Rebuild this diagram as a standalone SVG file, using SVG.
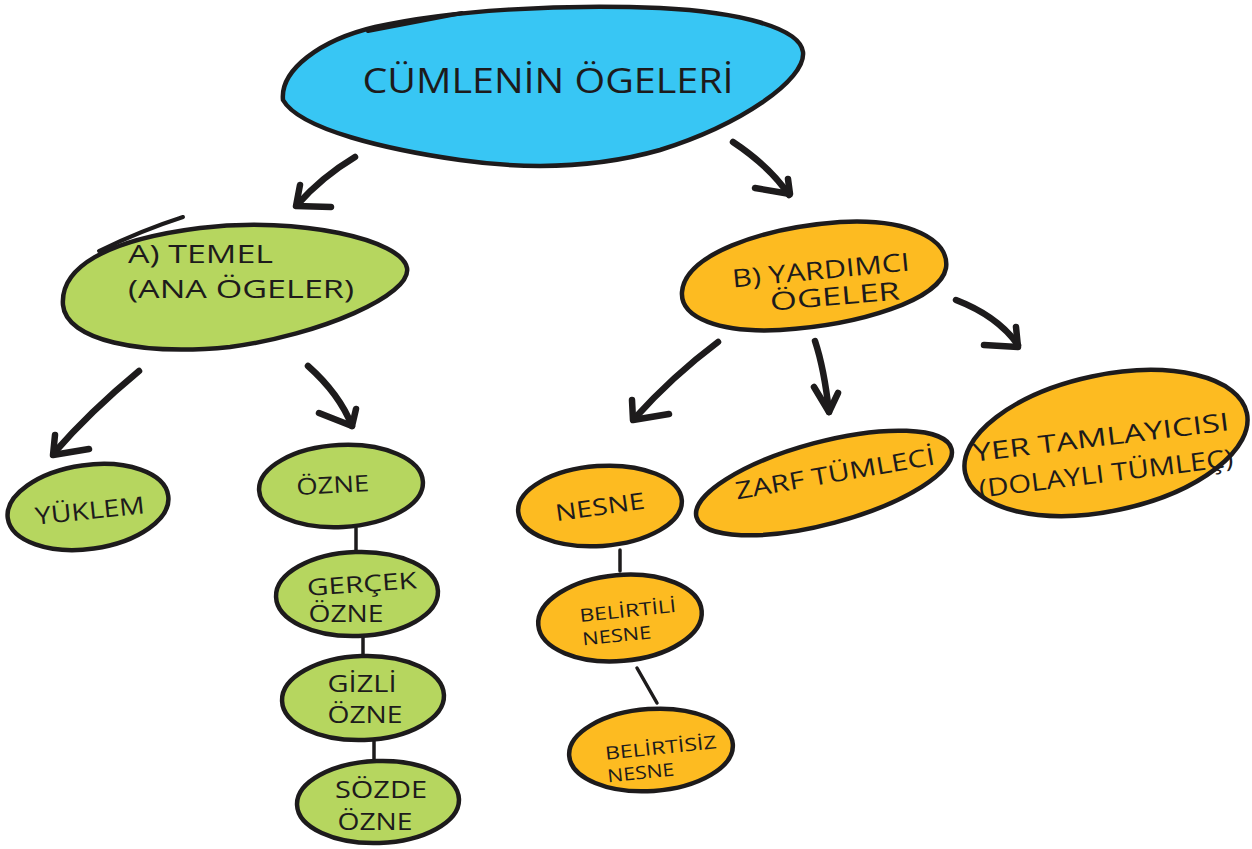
<svg xmlns="http://www.w3.org/2000/svg" width="1252" height="849" viewBox="0 0 1252 849">
<style>
.o{stroke:#1d1b1c;stroke-width:4.5;stroke-linejoin:round}
.b{fill:#38C6F4}.g{fill:#B6D65F}.y{fill:#FDBB21}
text{font-family:"Open Sans","DejaVu Sans",sans-serif;font-weight:500;fill:#1d1b1c;text-anchor:middle}
.a{fill:none;stroke:#1d1b1c;stroke-width:6.5;stroke-linecap:round;stroke-linejoin:round}
.l{fill:none;stroke:#1d1b1c;stroke-width:3.5;stroke-linecap:round}
.x{fill:none;stroke:#1d1b1c;stroke-width:4;stroke-linecap:round}
</style>
<rect width="1252" height="849" fill="#ffffff"/>

<g id="connectors">
  <!-- main to A -->
  <path class="a" d="M355,157 C330,172 312,188 297,205"/>
  <path class="a" d="M300,185 L296,206 L331,207"/>
  <!-- main to B -->
  <path class="a" d="M733,142 C757,158 775,174 789,195"/>
  <path class="a" d="M755,188 L790,194 L788,179"/>
  <!-- A to YUKLEM -->
  <path class="a" d="M139,371 C110,395 80,423 54,453"/>
  <path class="a" d="M55,435 L53,455 L89,449"/>
  <!-- A to OZNE -->
  <path class="a" d="M308,366 C326,382 343,403 352,426"/>
  <path class="a" d="M319,413 L352,426 L356,409"/>
  <!-- B to NESNE -->
  <path class="a" d="M718,342 C690,363 660,390 634,419"/>
  <path class="a" d="M632,400 L633,420 L669,414"/>
  <!-- B to ZARF -->
  <path class="a" d="M815,341 C822,362 826,385 829,412"/>
  <path class="a" d="M814,387 L829,412 L838,393"/>
  <!-- B to YER -->
  <path class="a" d="M956,300 C982,310 1004,325 1018,345"/>
  <path class="a" d="M984,345 L1018,347 L1016,327"/>
  <!-- vertical links -->
  <path class="l" d="M356,528 L356,550"/>
  <path class="l" d="M363,637 L363,656"/>
  <path class="l" d="M374,740 L374,759"/>
  <path class="l" d="M620,550 L620,571"/>
  <path class="l" d="M637,668 L657,703"/>
</g>

<g id="node-main">
  <path class="o b" d="M283,100 C280,70 320,40 375,27 C450,10 560,4 660,8 C740,12 800,28 803,52 C806,80 740,125 660,150 C600,167 530,170 460,160 C390,150 300,130 283,100 Z"/>
  <path class="x" stroke-width="5.5" d="M368,31 L462,13"/>
  <text x="548" y="93" font-size="35" textLength="371" lengthAdjust="spacingAndGlyphs">CÜMLENİN ÖGELERİ</text>
</g>

<g id="node-a">
  <path class="o g" d="M63,305 C60,268 105,240 200,228 C300,216 402,240 407,268 C412,295 320,335 230,347 C140,356 66,340 63,305 Z"/>
  <path class="x" d="M99,251 C130,236 155,226 183,217"/>
  <text x="128" y="263" font-size="25" style="text-anchor:start" textLength="145" lengthAdjust="spacingAndGlyphs">A) TEMEL</text>
  <text x="128" y="298" font-size="25" style="text-anchor:start" textLength="226" lengthAdjust="spacingAndGlyphs">(ANA ÖGELER)</text>
</g>

<g id="node-b">
  <path class="o y" d="M682,292 C685,255 760,228 840,222 C910,218 950,240 946,268 C940,300 860,325 780,330 C720,333 680,318 682,292 Z"/>
  <text x="821" y="279" font-size="25" transform="rotate(-5.5 821 272)" textLength="178" lengthAdjust="spacingAndGlyphs">B) YARDIMCI</text>
  <text x="835" y="305" font-size="25" transform="rotate(-5 835 298)" textLength="130" lengthAdjust="spacingAndGlyphs">ÖGELER</text>
</g>

<g id="node-yuklem">
  <ellipse class="o g" cx="88" cy="507" rx="81" ry="42" transform="rotate(-8 88 507)"/>
  <text x="90" y="519" font-size="24" transform="rotate(-6 90 512)" textLength="110" lengthAdjust="spacingAndGlyphs">YÜKLEM</text>
</g>

<g id="node-ozne">
  <ellipse class="o g" cx="341" cy="486" rx="82" ry="41" transform="rotate(-3 341 486)"/>
  <text x="333" y="493" font-size="23" transform="rotate(-3 333 491)" textLength="73" lengthAdjust="spacingAndGlyphs">ÖZNE</text>
</g>

<g id="node-gercek">
  <ellipse class="o g" cx="357" cy="594" rx="81" ry="42" transform="rotate(-2 357 594)"/>
  <text x="362" y="592" font-size="23" transform="rotate(-4 362 588)" textLength="110" lengthAdjust="spacingAndGlyphs">GERÇEK</text>
  <text x="346" y="622" font-size="23" textLength="75" lengthAdjust="spacingAndGlyphs">ÖZNE</text>
</g>

<g id="node-gizli">
  <ellipse class="o g" cx="363" cy="698" rx="81" ry="42" transform="rotate(-2 363 698)"/>
  <text x="362" y="692" font-size="23" textLength="69" lengthAdjust="spacingAndGlyphs">GİZLİ</text>
  <text x="365" y="723" font-size="23" textLength="75" lengthAdjust="spacingAndGlyphs">ÖZNE</text>
</g>

<g id="node-sozde">
  <ellipse class="o g" cx="378" cy="802" rx="81" ry="41" transform="rotate(-2 378 802)"/>
  <text x="381" y="798" font-size="23" textLength="92" lengthAdjust="spacingAndGlyphs">SÖZDE</text>
  <text x="375" y="830" font-size="23" textLength="75" lengthAdjust="spacingAndGlyphs">ÖZNE</text>
</g>

<g id="node-nesne">
  <ellipse class="o y" cx="600" cy="506" rx="82" ry="40" transform="rotate(-4 600 506)"/>
  <text x="600" y="515" font-size="23" transform="rotate(-8 600 508)" textLength="90" lengthAdjust="spacingAndGlyphs">NESNE</text>
</g>

<g id="node-belirtili">
  <ellipse class="o y" cx="620" cy="618" rx="82" ry="43" transform="rotate(-5 620 618)"/>
  <text x="628" y="617" font-size="18" transform="rotate(-6 628 613)" textLength="97" lengthAdjust="spacingAndGlyphs">BELİRTİLİ</text>
  <text x="617" y="642" font-size="18" transform="rotate(-6 617 638)" textLength="69" lengthAdjust="spacingAndGlyphs">NESNE</text>
</g>

<g id="node-belirtisiz">
  <ellipse class="o y" cx="651" cy="750" rx="82" ry="41" transform="rotate(-4 651 750)"/>
  <text x="661" y="754" font-size="18" transform="rotate(-6 661 750)" textLength="112" lengthAdjust="spacingAndGlyphs">BELİRTİSİZ</text>
  <text x="641" y="779" font-size="18" transform="rotate(-6 641 775)" textLength="67" lengthAdjust="spacingAndGlyphs">NESNE</text>
</g>

<g id="node-zarf">
  <ellipse class="o y" cx="824" cy="483" rx="132" ry="41" transform="rotate(-15 824 483)"/>
  <text x="835" y="482" font-size="24" transform="rotate(-10 835 474)" textLength="202" lengthAdjust="spacingAndGlyphs">ZARF TÜMLECİ</text>
</g>

<g id="node-yer">
  <ellipse class="o y" cx="1106" cy="443" rx="144" ry="68" transform="rotate(-12 1106 443)"/>
  <text x="1101" y="446" font-size="25" transform="rotate(-7 1101 438)" textLength="258" lengthAdjust="spacingAndGlyphs">YER TAMLAYICISI</text>
  <text x="1106" y="482" font-size="25" transform="rotate(-7 1106 474)" textLength="256" lengthAdjust="spacingAndGlyphs">(DOLAYLI TÜMLEÇ)</text>
</g>
</svg>
